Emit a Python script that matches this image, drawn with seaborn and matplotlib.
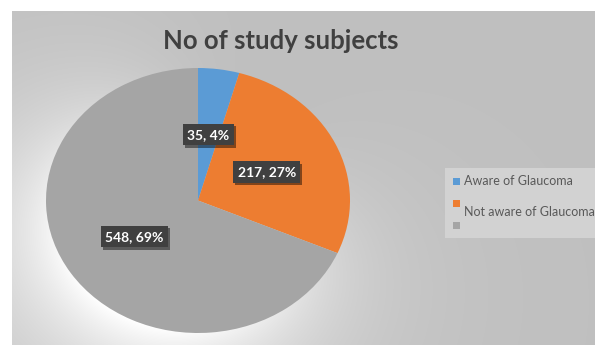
import numpy as np
import matplotlib
matplotlib.use("Agg")
import matplotlib.pyplot as plt
import matplotlib.patheffects as pe
from matplotlib.patches import Rectangle
import seaborn as sns

sns.set_theme(style="white")
plt.rcParams["font.family"] = ["Lato", "DejaVu Sans"]

# Study subjects by glaucoma awareness
categories = ["Aware of Glaucoma", "Not aware of Glaucoma", ""]
counts = [35, 217, 548]
percent_labels = ["4%", "27%", "69%"]
colors = ["#5b9bd5", "#ed7d31", "#a5a5a5"]
title = "No of study subjects"

W, H = 595, 345
fig = plt.figure(figsize=(W / 100, H / 100), dpi=100, facecolor="white")

# pie placement in pixels (left, right, top, bottom)
px0, px1, py0, py1 = 46, 350, 68, 333

# ---- chart area background with a soft light glow below-left of the pie ----
bg = fig.add_axes([0, 0, 1, 1])
bg.set_xlim(0, W)
bg.set_ylim(H, 0)
bg.axis("off")
yy, xx = np.mgrid[0:H, 0:W] + 0.5
gray = 0.75
cx, cy = (px0 + px1) / 2, (py0 + py1) / 2
rx, ry = (px1 - px0) / 2, (py1 - py0) / 2
u, v = (xx - cx) / rx, (yy - cy) / ry
d = np.sqrt(u ** 2 + v ** 2)
dist_px = np.clip(d - 1.0, 0, None) * 140.0
rel_x, rel_y = xx - cx, yy - cy
norm = np.hypot(rel_x, rel_y) + 1e-9
dot = (rel_x * -0.55 + rel_y * 0.83) / norm
direction = np.clip((1 + dot) / 2, 0, 1) ** 1.2
glow = direction * np.exp(-dist_px / 75.0)
val = gray + (1.0 - gray) * np.clip(glow, 0, 1)
val[(xx < 12) | (yy < 11)] = 1.0
img = np.dstack([val, val, val])
bg.imshow(img, extent=(0, W, H, 0), interpolation="bilinear", zorder=0)

# ---- pie ----
ax = fig.add_axes([px0 / W, 1 - py1 / H, (px1 - px0) / W, (py1 - py0) / H])
ax.patch.set_alpha(0)

labels_iter = iter(zip(counts, percent_labels))


def fmt(_pct):
    c, p = next(labels_iter)
    return f"{c}, {p}"


wedges, texts, autotexts = ax.pie(
    counts,
    colors=colors,
    startangle=90,
    counterclock=False,
    autopct=fmt,
    pctdistance=0.5,
    wedgeprops=dict(linewidth=0),
    textprops=dict(color="white", fontsize=10, fontweight="bold"),
)
ax.set_aspect("auto")
ax.set_xlim(-1, 1)
ax.set_ylim(-1, 1)
ax.axis("off")

for t in autotexts:
    t.set_bbox(dict(boxstyle="square,pad=0.33", facecolor="#404040", edgecolor="none"))
    t.get_bbox_patch().set_path_effects(
        [pe.SimplePatchShadow(offset=(1.5, -1.5), alpha=0.45, shadow_rgbFace="black"), pe.Normal()]
    )

# ---- title ----
fig.text(281 / W, 1 - 41 / H, title, ha="center", va="center",
         fontsize=18.5, fontweight="bold", color="#404040")

# ---- legend ----
leg = fig.add_axes([0, 0, 1, 1])
leg.set_xlim(0, W)
leg.set_ylim(H, 0)
leg.axis("off")
leg.add_patch(Rectangle((445, 168), 160, 70, facecolor="#d2d2d2", edgecolor="none"))
marker_y = [181, 203, 225]
text_y = [181, 212, 225]
for cat, col, my, ty in zip(categories, colors, marker_y, text_y):
    leg.add_patch(Rectangle((453, my - 3.5), 7, 7, facecolor=col, edgecolor="none"))
    leg.text(464, ty, cat, ha="left", va="center", fontsize=9, color="#595959")

fig.savefig("out.png", dpi=100, facecolor="white")
